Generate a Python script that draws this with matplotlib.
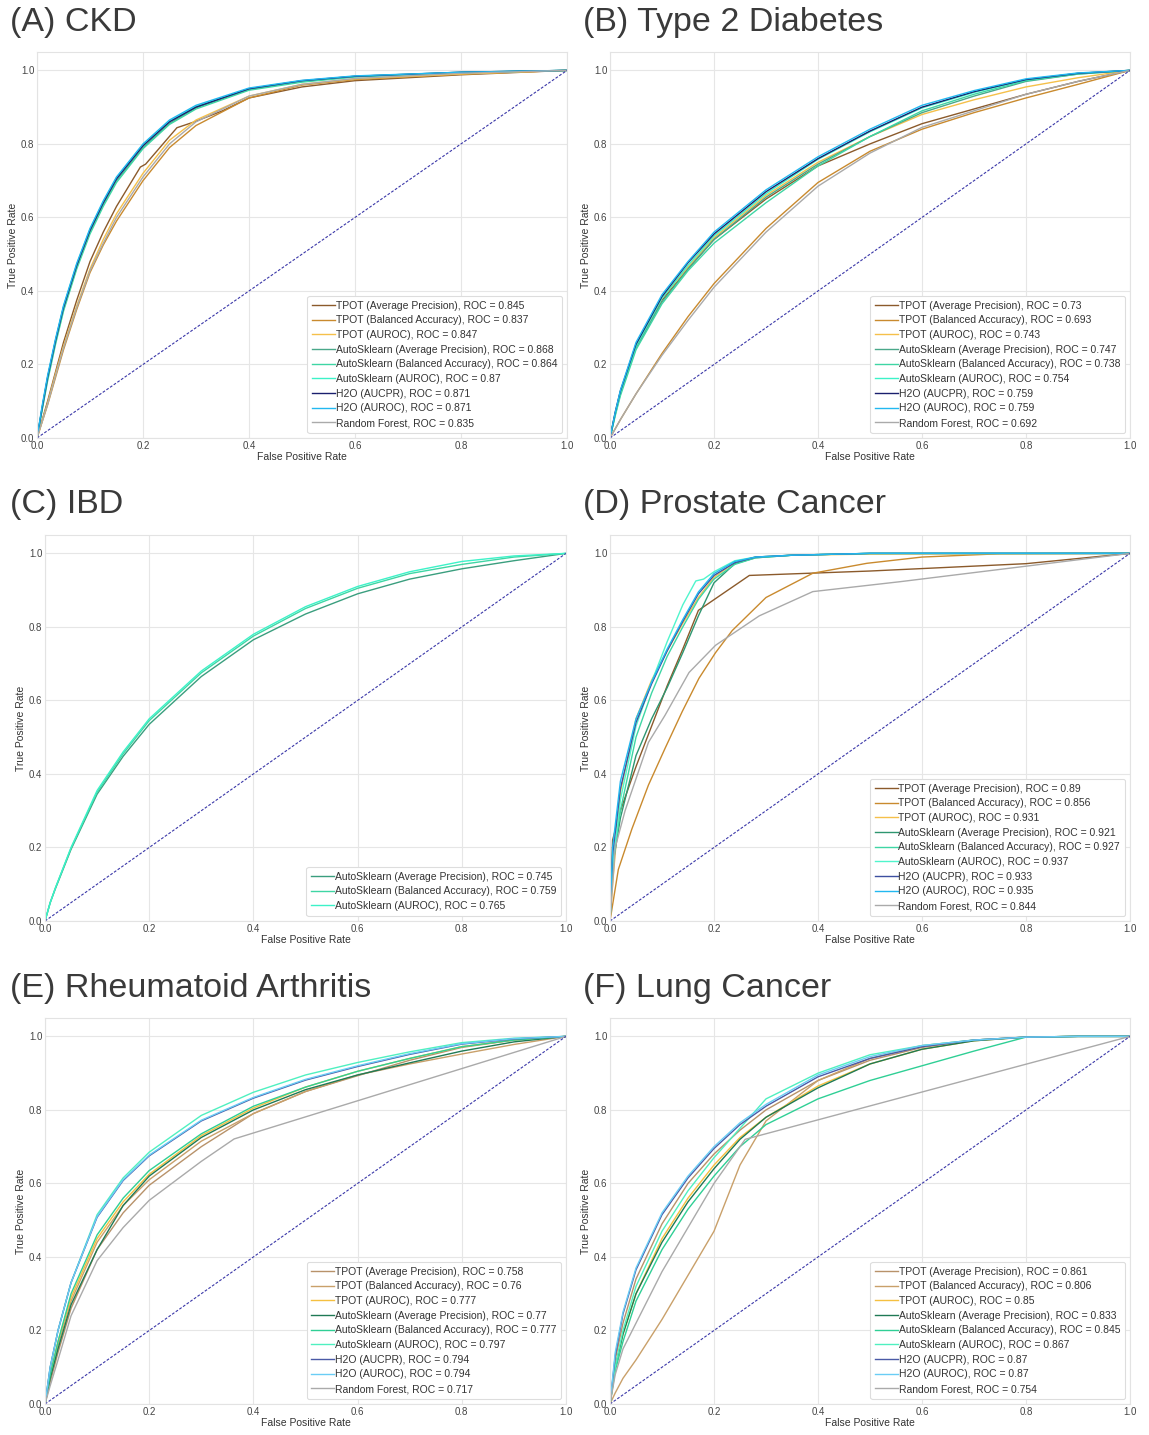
import numpy as np
import matplotlib
matplotlib.use('Agg')
import matplotlib.pyplot as plt

plt.rcParams['font.family'] = ['Liberation Sans', 'DejaVu Sans']

# ---- panel titles ----
titles = ['(A) CKD', '(B) Type 2 Diabetes', '(C) IBD',
          '(D) Prostate Cancer', '(E) Rheumatoid Arthritis', '(F) Lung Cancer']

names = ['TPOT (Average Precision)', 'TPOT (Balanced Accuracy)', 'TPOT (AUROC)',
         'AutoSklearn (Average Precision)', 'AutoSklearn (Balanced Accuracy)',
         'AutoSklearn (AUROC)', 'H2O (AUCPR)', 'H2O (AUROC)', 'Random Forest']

# ---- (A) CKD ----
a_x = [0, 0.01, 0.02, 0.035, 0.05, 0.075, 0.1, 0.125, 0.15, 0.2, 0.25, 0.3, 0.4, 0.5, 0.6, 0.8, 1.0]
a_tpot_ap_x = [0, 0.01, 0.02, 0.035, 0.05, 0.075, 0.1, 0.125, 0.15, 0.195, 0.205, 0.264, 0.295,
               0.35, 0.4, 0.5, 0.6, 0.8, 1.0]
a_tpot_ap = [0, 0.05, 0.10, 0.18, 0.26, 0.375, 0.48, 0.56, 0.63, 0.737, 0.745, 0.844, 0.859,
             0.89, 0.925, 0.955, 0.972, 0.988, 1.0]
a_tpot_ba = [0, 0.045, 0.09, 0.165, 0.24, 0.35, 0.45, 0.525, 0.59, 0.70, 0.79, 0.85, 0.925, 0.96, 0.975, 0.99, 1.0]
a_tpot_auroc = [0, 0.048, 0.095, 0.175, 0.25, 0.36, 0.46, 0.54, 0.61, 0.72, 0.81, 0.865, 0.93, 0.962, 0.977, 0.99, 1.0]
a_as_ap = [0, 0.08, 0.16, 0.26, 0.35, 0.465, 0.56, 0.635, 0.70, 0.79, 0.856, 0.898, 0.948, 0.97, 0.983, 0.994, 1.0]
a_as_ba = [0, 0.078, 0.155, 0.255, 0.345, 0.46, 0.555, 0.63, 0.695, 0.787, 0.853, 0.895, 0.946, 0.968, 0.982, 0.994, 1.0]
a_as_auroc = [0, 0.085, 0.165, 0.267, 0.358, 0.473, 0.568, 0.643, 0.708, 0.798, 0.862, 0.902, 0.95, 0.971, 0.984, 0.995, 1.0]
a_h2o_aucpr = [0, 0.085, 0.165, 0.265, 0.355, 0.47, 0.565, 0.64, 0.705, 0.795, 0.86, 0.90, 0.95, 0.972, 0.984, 0.995, 1.0]
a_h2o_auroc = [0, 0.09, 0.17, 0.27, 0.36, 0.475, 0.57, 0.645, 0.71, 0.80, 0.865, 0.905, 0.952, 0.973, 0.985, 0.995, 1.0]
a_rf = [0, 0.046, 0.092, 0.17, 0.245, 0.355, 0.455, 0.53, 0.60, 0.71, 0.80, 0.86, 0.93, 0.962, 0.978, 0.992, 1.0]
a_auc = [0.845, 0.837, 0.847, 0.868, 0.864, 0.87, 0.871, 0.871, 0.835]

# ---- (B) Type 2 Diabetes ----
b_x = [0, 0.01, 0.02, 0.05, 0.1, 0.15, 0.2, 0.3, 0.4, 0.5, 0.6, 0.7, 0.8, 0.9, 1.0]
b_tpot_ap = [0, 0.065, 0.125, 0.25, 0.375, 0.46, 0.54, 0.65, 0.74, 0.80, 0.855, 0.895, 0.935, 0.97, 1.0]
b_tpot_ba = [0, 0.025, 0.05, 0.12, 0.23, 0.33, 0.42, 0.57, 0.695, 0.78, 0.84, 0.885, 0.925, 0.962, 1.0]
b_tpot_auroc = [0, 0.065, 0.125, 0.25, 0.38, 0.465, 0.545, 0.66, 0.75, 0.82, 0.88, 0.92, 0.955, 0.98, 1.0]
b_as_ap = [0, 0.065, 0.12, 0.245, 0.37, 0.46, 0.54, 0.655, 0.745, 0.82, 0.885, 0.93, 0.97, 0.99, 1.0]
b_as_ba = [0, 0.06, 0.115, 0.24, 0.365, 0.455, 0.53, 0.64, 0.74, 0.82, 0.89, 0.935, 0.972, 0.99, 1.0]
b_as_auroc = [0, 0.065, 0.125, 0.25, 0.38, 0.47, 0.55, 0.665, 0.758, 0.833, 0.898, 0.94, 0.974, 0.992, 1.0]
b_h2o_aucpr = [0, 0.07, 0.128, 0.255, 0.385, 0.477, 0.555, 0.67, 0.76, 0.835, 0.90, 0.942, 0.975, 0.992, 1.0]
b_h2o_auroc = [0, 0.07, 0.13, 0.26, 0.39, 0.48, 0.56, 0.675, 0.765, 0.84, 0.905, 0.945, 0.977, 0.993, 1.0]
b_rf = [0, 0.025, 0.05, 0.12, 0.225, 0.32, 0.41, 0.56, 0.685, 0.775, 0.845, 0.89, 0.935, 0.97, 1.0]
b_auc = [0.73, 0.693, 0.743, 0.747, 0.738, 0.754, 0.759, 0.759, 0.692]

# ---- (C) IBD ----
c_x = [0, 0.01, 0.02, 0.05, 0.1, 0.15, 0.2, 0.3, 0.4, 0.5, 0.6, 0.7, 0.8, 0.9, 1.0]
c_as_ap = [0, 0.05, 0.088, 0.195, 0.345, 0.448, 0.535, 0.665, 0.765, 0.835, 0.89, 0.93, 0.958, 0.98, 1.0]
c_as_ba = [0, 0.05, 0.09, 0.198, 0.35, 0.455, 0.545, 0.675, 0.775, 0.85, 0.905, 0.945, 0.97, 0.99, 1.0]
c_as_auroc = [0, 0.05, 0.09, 0.20, 0.355, 0.46, 0.55, 0.68, 0.78, 0.855, 0.91, 0.95, 0.978, 0.993, 1.0]
c_auc = [0.745, 0.759, 0.765]

# ---- (D) Prostate Cancer ----
d_x = [0, 0.005, 0.02, 0.05, 0.08, 0.11, 0.14, 0.17, 0.2, 0.24, 0.28, 0.35, 0.5, 1.0]
d_tpot_ap_x = [0, 0.005, 0.02, 0.05, 0.08, 0.11, 0.14, 0.17, 0.268, 0.5, 0.8, 1.0]
d_tpot_ap = [0, 0.22, 0.30, 0.42, 0.53, 0.64, 0.74, 0.845, 0.94, 0.952, 0.972, 1.0]
d_tpot_ba_x = [0, 0.016, 0.042, 0.074, 0.106, 0.139, 0.171, 0.203, 0.235, 0.3, 0.39, 0.494, 0.6, 0.75, 1.0]
d_tpot_ba = [0, 0.14, 0.25, 0.37, 0.47, 0.57, 0.66, 0.73, 0.79, 0.88, 0.946, 0.973, 0.99, 0.999, 1.0]
d_tpot_auroc = [0, 0.10, 0.35, 0.55, 0.655, 0.735, 0.81, 0.88, 0.935, 0.975, 0.99, 0.995, 0.998, 1.0]
d_as_ap = [0, 0.15, 0.28, 0.45, 0.55, 0.635, 0.73, 0.83, 0.92, 0.972, 0.988, 0.995, 1.0, 1.0]
d_as_ba = [0, 0.15, 0.30, 0.50, 0.62, 0.72, 0.80, 0.875, 0.93, 0.97, 0.988, 0.995, 1.0, 1.0]
d_as_auroc_x = [0, 0.005, 0.02, 0.05, 0.08, 0.11, 0.14, 0.165, 0.18, 0.2, 0.24, 0.28, 0.35, 0.5, 1.0]
d_as_auroc = [0, 0.15, 0.33, 0.53, 0.65, 0.76, 0.86, 0.925, 0.93, 0.95, 0.98, 0.99, 0.995, 1.0, 1.0]
d_h2o_aucpr = [0, 0.18, 0.36, 0.54, 0.645, 0.735, 0.815, 0.89, 0.94, 0.975, 0.99, 0.995, 1.0, 1.0]
d_h2o_auroc = [0, 0.20, 0.38, 0.55, 0.65, 0.74, 0.82, 0.895, 0.945, 0.978, 0.99, 0.995, 1.0, 1.0]
d_rf_x = [0, 0.01, 0.029, 0.074, 0.106, 0.152, 0.203, 0.287, 0.39, 0.558, 1.0]
d_rf = [0, 0.20, 0.30, 0.486, 0.56, 0.676, 0.75, 0.83, 0.896, 0.923, 1.0]
d_auc = [0.89, 0.856, 0.931, 0.921, 0.927, 0.937, 0.933, 0.935, 0.844]

# ---- (E) Rheumatoid Arthritis ----
e_x = [0, 0.01, 0.025, 0.05, 0.1, 0.15, 0.2, 0.3, 0.4, 0.5, 0.6, 0.7, 0.8, 0.9, 1.0]
e_tpot_ap = [0, 0.06, 0.14, 0.26, 0.42, 0.52, 0.595, 0.70, 0.79, 0.85, 0.893, 0.935, 0.97, 0.99, 1.0]
e_tpot_ba = [0, 0.07, 0.16, 0.28, 0.44, 0.54, 0.61, 0.715, 0.79, 0.85, 0.895, 0.925, 0.952, 0.978, 1.0]
e_tpot_auroc = [0, 0.08, 0.17, 0.29, 0.45, 0.55, 0.625, 0.73, 0.805, 0.862, 0.905, 0.94, 0.972, 0.99, 1.0]
e_as_ap = [0, 0.07, 0.15, 0.27, 0.42, 0.54, 0.62, 0.725, 0.80, 0.855, 0.895, 0.928, 0.96, 0.985, 1.0]
e_as_ba = [0, 0.08, 0.17, 0.30, 0.46, 0.56, 0.635, 0.735, 0.81, 0.862, 0.905, 0.94, 0.972, 0.99, 1.0]
e_as_auroc = [0, 0.10, 0.20, 0.33, 0.515, 0.615, 0.685, 0.785, 0.848, 0.895, 0.929, 0.958, 0.983, 0.995, 1.0]
e_h2o_aucpr = [0, 0.10, 0.20, 0.33, 0.508, 0.608, 0.675, 0.77, 0.832, 0.881, 0.918, 0.951, 0.979, 0.993, 1.0]
e_h2o_auroc = [0, 0.10, 0.20, 0.33, 0.51, 0.61, 0.677, 0.772, 0.834, 0.883, 0.92, 0.953, 0.98, 0.994, 1.0]
e_rf_x = [0, 0.01, 0.025, 0.05, 0.1, 0.15, 0.2, 0.3, 0.363, 1.0]
e_rf = [0, 0.05, 0.12, 0.24, 0.39, 0.48, 0.554, 0.66, 0.721, 1.0]
e_auc = [0.758, 0.76, 0.777, 0.77, 0.777, 0.797, 0.794, 0.794, 0.717]

# ---- (F) Lung Cancer ----
f_x = [0, 0.01, 0.025, 0.05, 0.1, 0.15, 0.2, 0.25, 0.3, 0.4, 0.5, 0.6, 0.7, 0.8, 0.9, 1.0]
f_tpot_ap = [0, 0.12, 0.22, 0.34, 0.49, 0.60, 0.68, 0.745, 0.80, 0.88, 0.935, 0.97, 0.99, 0.998, 1.0, 1.0]
f_tpot_ba = [0, 0.03, 0.07, 0.12, 0.23, 0.35, 0.47, 0.65, 0.77, 0.88, 0.94, 0.975, 0.99, 0.998, 1.0, 1.0]
f_tpot_auroc = [0, 0.10, 0.19, 0.30, 0.45, 0.56, 0.65, 0.725, 0.78, 0.865, 0.925, 0.965, 0.988, 0.998, 1.0, 1.0]
f_as_ap = [0, 0.10, 0.19, 0.30, 0.44, 0.55, 0.64, 0.72, 0.78, 0.86, 0.925, 0.965, 0.988, 0.998, 1.0, 1.0]
f_as_ba = [0, 0.09, 0.17, 0.28, 0.42, 0.53, 0.62, 0.70, 0.76, 0.83, 0.88, 0.92, 0.96, 0.998, 1.0, 1.0]
f_as_auroc = [0, 0.10, 0.20, 0.32, 0.47, 0.58, 0.67, 0.75, 0.83, 0.90, 0.95, 0.975, 0.99, 0.998, 1.0, 1.0]
f_h2o_aucpr = [0, 0.13, 0.245, 0.365, 0.515, 0.615, 0.695, 0.76, 0.81, 0.89, 0.94, 0.972, 0.99, 0.998, 1.0, 1.0]
f_h2o_auroc = [0, 0.14, 0.25, 0.37, 0.52, 0.62, 0.70, 0.765, 0.815, 0.895, 0.945, 0.975, 0.99, 0.998, 1.0, 1.0]
f_rf_x = [0, 0.01, 0.025, 0.05, 0.1, 0.15, 0.2, 0.26, 1.0]
f_rf = [0, 0.08, 0.15, 0.22, 0.36, 0.48, 0.60, 0.72, 1.0]
f_auc = [0.861, 0.806, 0.85, 0.833, 0.845, 0.867, 0.87, 0.87, 0.754]

colors_top = ['#8b5a2b', '#c98a2e', '#f5c04a', '#4aa88a', '#3fd6a4', '#3cf2c8',
              '#1a1f6e', '#22b8f0', '#aaaaaa']
colors_bottom = ['#b8926a', '#c9a06a', '#f5c040', '#1f7a55', '#2fcf95', '#4ff0c0',
                 '#4a5aa6', '#6acdf5', '#aaaaaa']
colors_d = ['#8b5a2b', '#c98a2e', '#f5c04a', '#2e9670', '#3fd6a4', '#50f5cc',
            '#3d4fa0', '#22b8f0', '#aaaaaa']

panels = [
    ([(a_tpot_ap_x, a_tpot_ap), (a_x, a_tpot_ba), (a_x, a_tpot_auroc), (a_x, a_as_ap),
      (a_x, a_as_ba), (a_x, a_as_auroc), (a_x, a_h2o_aucpr), (a_x, a_h2o_auroc), (a_x, a_rf)],
     names, a_auc, colors_top),
    ([(b_x, b_tpot_ap), (b_x, b_tpot_ba), (b_x, b_tpot_auroc), (b_x, b_as_ap),
      (b_x, b_as_ba), (b_x, b_as_auroc), (b_x, b_h2o_aucpr), (b_x, b_h2o_auroc), (b_x, b_rf)],
     names, b_auc, colors_top),
    ([(c_x, c_as_ap), (c_x, c_as_ba), (c_x, c_as_auroc)],
     names[3:6], c_auc, ['#3a9e7e', '#3fd6a4', '#3cf2c8']),
    ([(d_tpot_ap_x, d_tpot_ap), (d_tpot_ba_x, d_tpot_ba), (d_x, d_tpot_auroc), (d_x, d_as_ap),
      (d_x, d_as_ba), (d_as_auroc_x, d_as_auroc), (d_x, d_h2o_aucpr), (d_x, d_h2o_auroc),
      (d_rf_x, d_rf)],
     names, d_auc, colors_d),
    ([(e_x, e_tpot_ap), (e_x, e_tpot_ba), (e_x, e_tpot_auroc), (e_x, e_as_ap),
      (e_x, e_as_ba), (e_x, e_as_auroc), (e_x, e_h2o_aucpr), (e_x, e_h2o_auroc), (e_rf_x, e_rf)],
     names, e_auc, colors_bottom),
    ([(f_x, f_tpot_ap), (f_x, f_tpot_ba), (f_x, f_tpot_auroc), (f_x, f_as_ap),
      (f_x, f_as_ba), (f_x, f_as_auroc), (f_x, f_h2o_aucpr), (f_x, f_h2o_auroc), (f_rf_x, f_rf)],
     names, f_auc, colors_bottom),
]

W, H = 1149, 1435
# axes boxes in pixels: left, right, top, bottom
boxes = [(37, 567, 52, 438), (610, 1130, 52, 438),
         (45, 566, 535, 921), (610, 1130, 535, 921),
         (45, 566, 1018, 1404), (610, 1130, 1018, 1404)]
title_pos = [(10, 22), (583, 22), (10, 505), (583, 505), (10, 988), (583, 988)]

fig = plt.figure(figsize=(W / 100, H / 100), dpi=100)
fig.patch.set_facecolor('white')

for i, (curves, labels, aucs, cols) in enumerate(panels):
    l, r, t, b = boxes[i]
    ax = fig.add_axes([l / W, 1 - b / H, (r - l) / W, (b - t) / H])
    ax.set_facecolor('white')
    for (xs, ys), lab, auc, c in zip(curves, labels, aucs, cols):
        ax.plot(xs, ys, color=c, lw=1.0, label=f'{lab}, ROC = {auc}')
    ax.plot([0, 1], [0, 1], color='#3a37a8', lw=0.8, ls=(0, (2.5, 1.5)))
    ax.set_xlim(0, 1.0)
    ax.set_ylim(0, 1.05)
    ticks = np.arange(0, 1.01, 0.2)
    ax.set_xticks(ticks)
    ax.set_yticks(ticks)
    ax.set_xticklabels([f'{v:.1f}' for v in ticks])
    ax.set_yticklabels([f'{v:.1f}' for v in ticks])
    ax.grid(True, color='#e6e6e6', lw=0.8)
    ax.set_axisbelow(True)
    for s in ax.spines.values():
        s.set_color('#e3e3e3')
        s.set_linewidth(0.8)
    ax.tick_params(length=0, labelsize=7, labelcolor='#444444', pad=2)
    ax.set_xlabel('False Positive Rate', fontsize=7.5, color='#333333', labelpad=1)
    ax.set_ylabel('True Positive Rate', fontsize=7.5, color='#333333', labelpad=2)
    leg = ax.legend(loc='lower right', fontsize=7.5, handlelength=2.2, handletextpad=0.05,
                    labelspacing=0.45, borderpad=0.45, framealpha=1.0, fancybox=True)
    leg.get_frame().set_edgecolor('#dddddd')
    leg.get_frame().set_linewidth(0.8)
    for txt in leg.get_texts():
        txt.set_color('#333333')
    tx, ty = title_pos[i]
    fig.text(tx / W, 1 - ty / H, titles[i], fontsize=24.5, color='#3a3a3a',
             ha='left', va='center')

fig.savefig('out.png', dpi=100, facecolor='white')
